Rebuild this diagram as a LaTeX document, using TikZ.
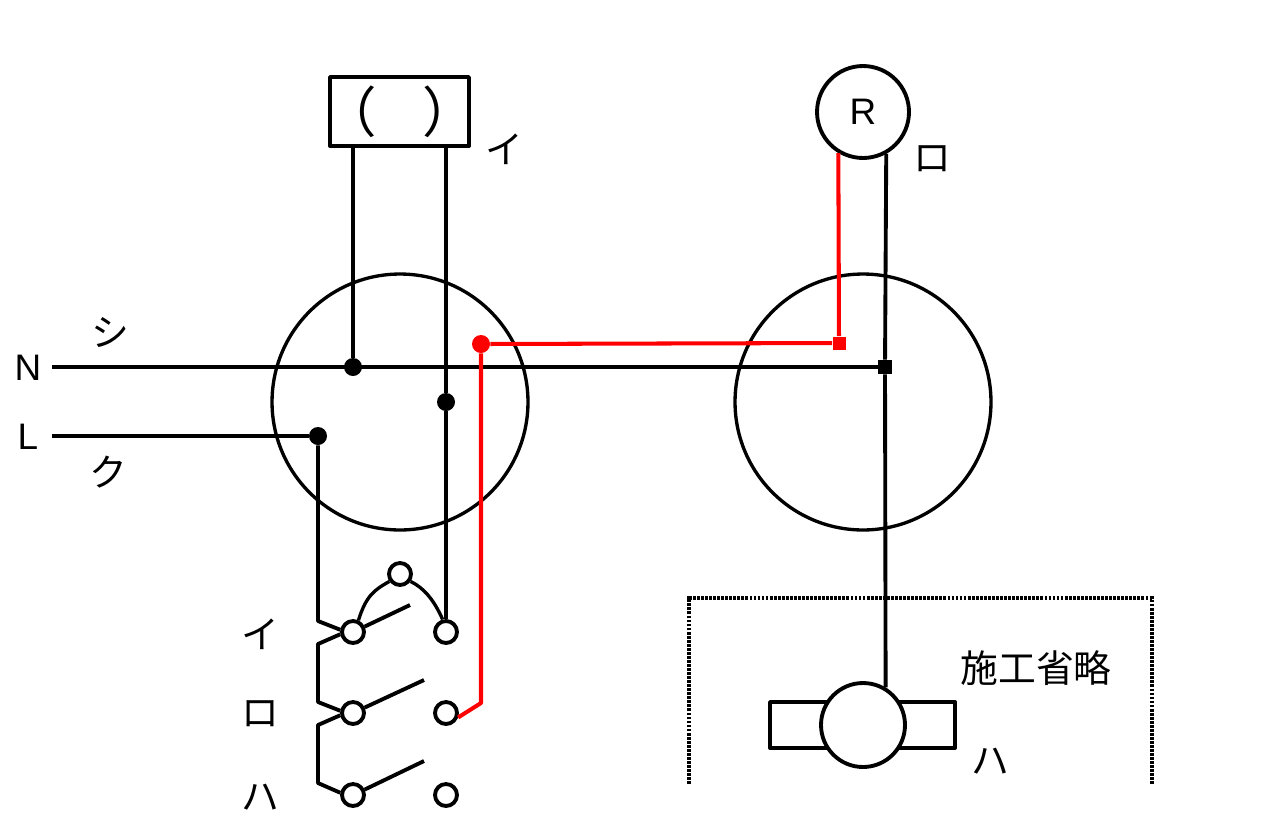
\documentclass[tikz,border=0pt]{standalone}
\usepackage{fontspec}
\setmainfont{Liberation Sans}
\newfontfamily\jpfont{Noto Sans CJK JP}
\usetikzlibrary{calc}
\definecolor{wirered}{HTML}{FF0000}
\tikzset{
  wire/.style={draw=black, line width=2.2pt, line join=round},
  wirer/.style={draw=wirered, line width=2.3pt, line join=round},
  thin wire/.style={draw=black, line width=1.9pt},
  dotb/.style={circle, fill=black, inner sep=0pt, minimum size=0.36cm},
  dotr/.style={circle, fill=wirered, inner sep=0pt, minimum size=0.36cm},
  sqb/.style={rectangle, fill=black, inner sep=0pt, minimum size=0.28cm},
  sqr/.style={rectangle, fill=wirered, inner sep=0pt, minimum size=0.26cm},
  term/.style={circle, wire, fill=white, inner sep=0pt, minimum size=0.44cm},
  box/.style={circle, draw=black, line width=1.9pt, inner sep=0pt, minimum size=5.12cm},
  lab/.style={font=\jpfont\fontsize{21.5}{26}\selectfont, inner sep=0pt},
  labl/.style={font=\fontsize{21}{25}\selectfont, inner sep=0pt},
}
\begin{document}
\begin{tikzpicture}[x=0.02cm,y=-0.02cm]
  \useasboundingbox (0,0) rectangle (1263,836);
  \node[box] (boxL) at (400,402) {};
  \node[box] (boxR) at (863,402) {};
  \node[rectangle, wire, fill=white, minimum width=2.78cm, minimum height=1.38cm, inner sep=0pt, font=\jpfont\fontsize{31}{34}\selectfont] (ceil) at (399.5,111.5) {\makebox[0pt]{（\hspace{0.83em}）}};
  \node[circle, wire, fill=white, inner sep=0pt, minimum size=1.84cm, labl] (lampR) at (863,112) {R};
  \node[rectangle, wire, minimum width=3.7cm, minimum height=0.92cm, inner sep=0pt] (fanbody) at (862.5,725) {};
  \node[circle, wire, fill=white, inner sep=0pt, minimum size=1.68cm] (fan) at (863,725) {};
  \node[dotb] (jN) at (353,367) {};
  \node[dotb] (jS) at (446,402) {};
  \node[dotb] (jL) at (318,436) {};
  \node[dotr] (jR) at (481,344) {};
  \node[sqb] (sN) at (885,367) {};
  \node[sqr] (sR) at (839,343) {};
  \node[term] (swP) at (400,574) {};
  \node[term] (swA) at (353,632) {};
  \node[term] (swB) at (353,713) {};
  \node[term] (swC) at (353,795) {};
  \node[term] (toA) at (446,632) {};
  \node[term] (toB) at (446,713) {};
  \node[term] (toC) at (446,795) {};
  \coordinate (nfree) at (52,367);
  \coordinate (lfree) at (52,436);
  \coordinate (armA) at (410,605);
  \coordinate (armB) at (424,680);
  \coordinate (armC) at (424,761);
  \draw[wire] (nfree) -- (sN);
  \draw[wire] (lfree) -- (jL);
  \draw[wire] (jN |- ceil.south) -- (jN);
  \draw[wire] (jS |- ceil.south) -- (jS) -- (toA);
  \draw[wire] (lampR.-61) -- (sN) -- (fan.59);
  \draw[wire] (jL) -- (318,621) -- (swA.170);
  \draw[wire] (swA.190) -- (318,644) -- (318,702) -- (swB.170);
  \draw[wire] (swB.190) -- (318,725) -- (318,783) -- (swC.170);
  \draw[wire] (swA.25) -- (armA);
  \draw[wire] (swB.25) -- (armB);
  \draw[wire] (swC.25) -- (armC);
  \draw[thin wire] (swA.65) .. controls (366,596) and (374,590) .. (swP.215);
  \draw[thin wire] (swP.-35) .. controls (424,588) and (434,600) .. (toA.105);
  \draw[wirer] (jR) -- (sR) -- (lampR.-121);
  \draw[wirer] (jR) -- (481,703) -- (toB.-20);
  \draw[draw=black, line width=2pt, dash pattern=on 1.6pt off 0.7pt] (689,784) -- (689,598) -- (1152,598) -- (1152,784);
  \node[lab] (lbA) at (504,149) {イ};
  \node[lab] (lbB) at (932,159) {ロ};
  \node[lab] (lbS) at (110,333) {シ};
  \node[lab] (lbK) at (108,472) {ク};
  \node[labl] (lbN) at (28,368) {N};
  \node[labl] (lbL) at (28,437) {L};
  \node[lab] (swlA) at (260,634) {イ};
  \node[lab] (swlB) at (260,714) {ロ};
  \node[lab] (swlC) at (260,797) {ハ};
  \node[lab] (lbOm) at (1036,668) {施工省略};
  \node[lab] (lbH) at (990,761) {ハ};
\end{tikzpicture}
\end{document}
